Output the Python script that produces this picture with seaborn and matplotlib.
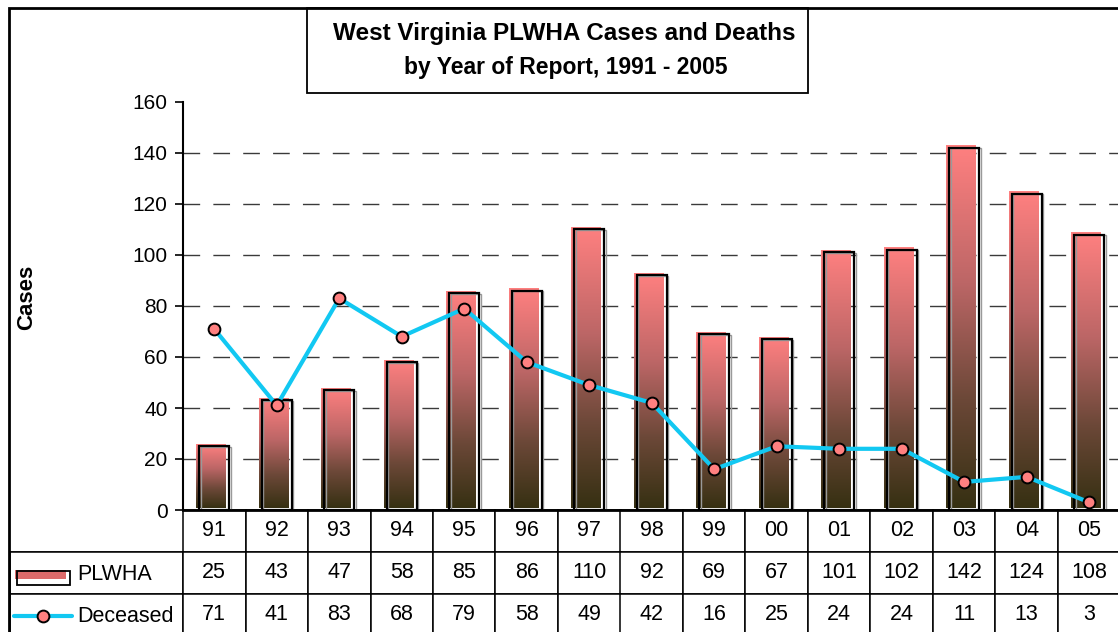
import numpy as np
import pandas as pd
import matplotlib
matplotlib.use("Agg")
import matplotlib.pyplot as plt
import seaborn as sns
from matplotlib.patches import Rectangle
from matplotlib.lines import Line2D
from matplotlib.colors import LinearSegmentedColormap
import matplotlib.transforms as mtransforms

# ---------------- data ----------------
years = ["91", "92", "93", "94", "95", "96", "97", "98", "99", "00", "01", "02", "03", "04", "05"]
plwha = [25, 43, 47, 58, 85, 86, 110, 92, 69, 67, 101, 102, 142, 124, 108]
deceased = [71, 41, 83, 68, 79, 58, 49, 42, 16, 25, 24, 24, 11, 13, 3]
series_names = ["PLWHA", "Deceased"]
y_ticks = [0, 20, 40, 60, 80, 100, 120, 140, 160]
title_line1 = "West Virginia PLWHA Cases and Deaths"
title_line2 = "by Year of Report, 1991 - 2005"
y_label = "Cases"

# ---------------- style ----------------
sns.set_theme(style="white")
plt.rcParams['font.family'] = ['Liberation Sans', 'DejaVu Sans']

W, H = 1118, 632
fig = plt.figure(figsize=(W / 100, H / 100), dpi=100)
fig.patch.set_facecolor("white")


def fx(px):
    return px / W


def fy(py):
    return 1 - py / H


ax_left, ax_right, ax_top, ax_bottom = 183, 1120.5, 102, 510
ax = fig.add_axes([fx(ax_left), fy(ax_bottom), (ax_right - ax_left) / W, (ax_bottom - ax_top) / H])
ax.set_facecolor("white")

df = pd.DataFrame({"year": years, series_names[0]: plwha, series_names[1]: deceased})

# bars
sns.barplot(data=df, x="year", y=series_names[0], ax=ax, width=0.48, color="white",
            zorder=3, errorbar=None)

grad_cmap = LinearSegmentedColormap.from_list(
    "bar_grad", [(0.0, "#363012"), (0.3, "#6C4838"), (0.62, "#BC6666"), (1.0, "#FF8080")])
grad = np.linspace(0, 1, 256).reshape(-1, 1)
fill_shift = ax.transData + mtransforms.ScaledTranslation(-3 / 100, 2 / 100, fig.dpi_scale_trans)
shadow_shift = ax.transData + mtransforms.ScaledTranslation(1.5 / 100, -0.5 / 100, fig.dpi_scale_trans)

for p in list(ax.patches):
    x0, w, h = p.get_x(), p.get_width(), p.get_height()
    p.set_facecolor("none")
    p.set_edgecolor("black")
    p.set_linewidth(1.6)
    ax.imshow(grad, extent=[x0, x0 + w, 0, h], origin="lower", aspect="auto",
              cmap=grad_cmap, zorder=2, transform=fill_shift, interpolation="bilinear")
    ax.add_patch(Rectangle((x0, 0), w, h, fill=False, edgecolor="#9a9a9a",
                           linewidth=1.0, zorder=2.5, transform=shadow_shift))

# line
line_color = "#12C8F2"
sns.pointplot(data=df, x="year", y=series_names[1], ax=ax, color=line_color,
              errorbar=None, markers="o", linestyles="-")
ln = ax.lines[-1]
ln.set_linewidth(3.0)
ln.set_markersize(8.5)
ln.set_markerfacecolor("#FF8080")
ln.set_markeredgecolor("black")
ln.set_markeredgewidth(1.4)
ln.set_zorder(5)

# axes
ax.set_xlim(-0.5, len(years) - 0.5)
ax.set_ylim(0, 160)
ax.set_yticks(y_ticks)
ax.set_xlabel("")
ax.set_ylabel("")
ax.tick_params(axis="y", left=True, length=6, width=1.2, pad=5, direction="out",
               colors="black", labelsize=15)
ax.tick_params(axis="x", bottom=False, labelbottom=False, length=0)
for t in ax.get_yticklabels():
    t.set_color("black")

ax.yaxis.grid(True, linestyle=(0, (12, 9.5)), color="#3a3a3a", linewidth=1.0)
ax.set_axisbelow(True)
gl = ax.yaxis.get_gridlines()
gl[0].set_visible(False)
gl[-1].set_visible(False)

for s in ["top", "right"]:
    ax.spines[s].set_visible(False)
ax.spines["left"].set_color("black")
ax.spines["left"].set_linewidth(1.5)
ax.spines["bottom"].set_color("black")
ax.spines["bottom"].set_linewidth(2.0)
ax.spines["bottom"].set_zorder(6)

# data table
tab_left = 10
col0_w = ax_left - tab_left
col_w = (ax_right - ax_left) / len(years)
row_h = 42
ax_w_px = ax_right - ax_left
ax_h_px = ax_bottom - ax_top
cell_text = [[""] + years,
             [""] + [str(v) for v in plwha],
             [""] + [str(v) for v in deceased]]
tbl = ax.table(cellText=cell_text,
               colWidths=[col0_w / ax_w_px] + [col_w / ax_w_px] * len(years),
               cellLoc="center",
               bbox=[(tab_left - ax_left) / ax_w_px, -3 * row_h / ax_h_px,
                     (ax_right - tab_left) / ax_w_px, 3 * row_h / ax_h_px])
tbl.auto_set_font_size(False)
tbl.set_fontsize(15.5)
for (r, c), cell in tbl.get_celld().items():
    cell.set_edgecolor("black")
    cell.set_linewidth(1.1)
    cell.set_facecolor("white")
    cell.get_text().set_color("black")
tbl[0, 0].visible_edges = "B"

# row labels with legend keys
fig.text(fx(77), fy(574), series_names[0], fontsize=15.5, ha="left", va="center", color="black")
fig.text(fx(77), fy(616), series_names[1], fontsize=15.5, ha="left", va="center", color="black")
fig.add_artist(Rectangle((fx(15), fy(579)), (66 - 15) / W, 9 / H, transform=fig.transFigure,
                         facecolor="#DD6A6A", edgecolor="none", zorder=10))
fig.add_artist(Rectangle((fx(16.5), fy(585)), (70 - 16.5) / W, 14 / H, transform=fig.transFigure,
                         facecolor="none", edgecolor="black", linewidth=1.3, zorder=11))
fig.add_artist(Line2D([fx(14), fx(72)], [fy(616), fy(616)], transform=fig.transFigure,
                      color=line_color, linewidth=3.0, zorder=10))
fig.add_artist(Line2D([fx(43)], [fy(616)], transform=fig.transFigure, marker="o",
                      markersize=8.5, markerfacecolor="#FF8080", markeredgecolor="black",
                      markeredgewidth=1.4, linestyle="none", zorder=11))

# y label
fig.text(fx(27), fy(297), y_label, rotation=90, fontsize=16, fontweight="bold",
         ha="center", va="center", color="black")

# outer frame
fig.add_artist(Rectangle((fx(9), fy(700)), (1140 - 9) / W, (700 - 8) / H,
                         transform=fig.transFigure, fill=False, edgecolor="black",
                         linewidth=2.0, zorder=20))

# title box
fig.add_artist(Rectangle((fx(307), fy(93)), (808 - 307) / W, (93 - 8) / H,
                         transform=fig.transFigure, facecolor="white", edgecolor="black",
                         linewidth=1.3, zorder=15))
fig.text(fx(564), fy(40), title_line1, fontsize=17.5, fontweight="bold", ha="center",
         va="baseline", color="black", zorder=16)
fig.text(fx(566), fy(74), title_line2, fontsize=16.5, fontweight="bold", ha="center",
         va="baseline", color="black", zorder=16)

fig.savefig("out.png", dpi=100)
